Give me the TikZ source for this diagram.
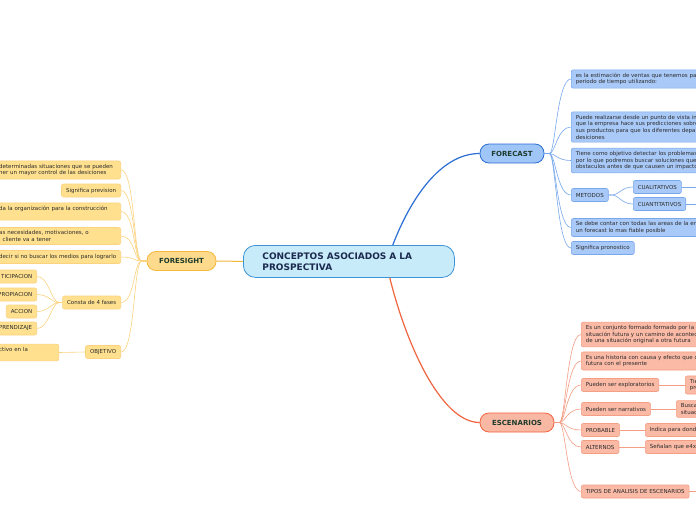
\documentclass[tikz,border=0pt]{standalone}
\usepackage{fontspec}
\setmainfont{DejaVu Sans}
\usepackage{tikz}

\definecolor{rootfill}{HTML}{C8EBFA}
\definecolor{rootline}{HTML}{3E93D6}
\definecolor{roottext}{HTML}{1B2A4E}
\definecolor{topictext}{HTML}{1D3A2C}
\definecolor{leaftext}{HTML}{2B2B2B}
\definecolor{fsfill}{HTML}{FDDA8C}
\definecolor{fsline}{HTML}{F4B83A}
\definecolor{fsleaffill}{HTML}{FFE08E}
\definecolor{fsleafline}{HTML}{FBD27E}
\definecolor{fcfill}{HTML}{A0C6F7}
\definecolor{fcline}{HTML}{2A6ED4}
\definecolor{fcleaffill}{HTML}{A9CAF8}
\definecolor{fcleafline}{HTML}{78A8EC}
\definecolor{esfill}{HTML}{F8B8A3}
\definecolor{esline}{HTML}{F0653E}
\definecolor{esleaffill}{HTML}{FABAA6}
\definecolor{esleafline}{HTML}{F49E84}

\begin{document}
\begin{tikzpicture}[x=1pt, y=-1pt,
        root/.style={draw=rootline, fill=rootfill, line width=0.8pt, rounded corners=12pt, text=roottext,
            font=\bfseries\fontsize{9}{11}\selectfont, align=left, anchor=north west,
            minimum height=32pt, inner xsep=19pt, inner ysep=0pt, text width=173pt},
        topic/.style={line width=0.8pt, rounded corners=9pt, text=topictext,
            font=\bfseries\fontsize{7}{8}\selectfont, minimum height=19pt, inner sep=0pt},
        leaf/.style={rounded corners=2pt, line width=0.6pt, text=leaftext, font=\fontsize{5.5}{6.7}\selectfont,
            align=left, inner xsep=4.5pt, inner ysep=3pt, minimum height=13pt},
        fsleaf/.style={leaf, draw=fsleafline, fill=fsleaffill, anchor=east},
        fcleaf/.style={leaf, draw=fcleafline, fill=fcleaffill, anchor=west},
        esleaf/.style={leaf, draw=esleafline, fill=esleaffill, anchor=west},
        cut/.style={text width=117pt},
        wide/.style={text width=160pt},
        fslink/.style={draw=fsleafline, line width=0.6pt},
        fclink/.style={draw=fcleafline, line width=0.6pt},
        eslink/.style={draw=esleafline, line width=0.6pt}
    ]
    \useasboundingbox (0,0) rectangle (696,520);
    \fill[white] (0,0) rectangle (696,520);
    \clip (0,0) rectangle (696,520);

    % main topics
    \node[root] (root) at (243,245) {CONCEPTOS ASOCIADOS A LA\\PROSPECTIVA};
    \node[topic, draw=fsline, fill=fsfill, minimum width=69pt] (foresight) at (181.5,261) {FORESIGHT};
    \node[topic, draw=fcline, fill=fcfill, minimum width=64pt] (forecast) at (512,153.5) {FORECAST};
    \node[topic, draw=esline, fill=esfill, minimum width=74pt] (escenarios) at (517,422.5) {ESCENARIOS};

    \draw[draw=fsline, line width=1pt] (root.west) -- (foresight.east);
    \draw[draw=fcline, line width=1.2pt] ([xshift=-62pt]root.north east) .. controls (410,200) and (440,153.5) .. (forecast.west);
    \draw[draw=esline, line width=1.2pt] ([xshift=-65pt]root.south east) .. controls (405,340) and (440,422.5) .. (escenarios.west);

    % foresight
    \node[fsleaf, cut] (fs1) at (121,170) {determinadas situaciones que se pueden\\ner un mayor control de las desiciones};
    \node[fsleaf] (fs2) at (121,190.5) {Significa prevision};
    \node[fsleaf, cut] (fs3) at (121,211.5) {da la organización para la construcción\\\mbox{}};
    \node[fsleaf, cut] (fs4) at (121,236) {as necesidades, motivaciones, o\\l cliente va a tener};
    \node[fsleaf] (fs5) at (121,257) {decir si no buscar los medios para lograrlo};
    \node[fsleaf] (fases) at (121,302.5) {Consta de 4 fases};
    \node[fsleaf] (objetivo) at (121,352) {OBJETIVO};
    \foreach \c in {fs1,fs2,fs3,fs4,fs5,fases,objetivo}
        \draw[fslink] (foresight.west) -- ++(-5,0) .. controls +(-8,0) and +(14,0) .. (\c.east);

    \node[fsleaf] (fase1) at (37,276.5) {TICIPACION};
    \node[fsleaf] (fase2) at (37,294.5) {PROPIACION};
    \node[fsleaf] (fase3) at (37,311.5) {ACCION};
    \node[fsleaf] (fase4) at (37,328.5) {PRENDIZAJE};
    \foreach \c in {fase1,fase2,fase3,fase4}
        \draw[fslink] (fases.west) -- ++(-3,0) .. controls +(-8,0) and +(12,0) .. (\c.east);

    \node[fsleaf, text width=55pt] (obj1) at (59,352.5) {ctivo en la\\\mbox{}};
    \draw[fslink] (objetivo.west) -- (obj1.east);

    % forecast
    \node[fcleaf, wide] (fc1) at (571,79) {es la estimación de ventas que tenemos pa\\periodo de tiempo utilizando:};
    \node[fcleaf, wide] (fc2) at (571,127) {Puede realizarse desde un punto de vista in\\que la empresa hace sus predicciones sobre\\sus productos para que los diferentes depar\\desiciones};
    \node[fcleaf, wide] (fc3) at (571,160.5) {Tiene como objetivo detectar los problemas\\por lo que podremos buscar soluciones que\\obstaculos antes de que causen un impacto};
    \node[fcleaf] (metodos) at (571,195) {METODOS};
    \node[fcleaf, wide] (fc5) at (571,227.5) {Se debe contar con todas las areas de la em\\un forecast lo mas fiable posible};
    \node[fcleaf] (fc6) at (571,248) {Significa pronostico};
    \foreach \c in {fc1,fc2,fc3,metodos,fc5,fc6}
        \draw[fclink] (forecast.east) -- ++(5,0) .. controls +(6,0) and +(-14,0) .. (\c.west);

    \node[fcleaf] (cuali) at (633,187) {CUALITATIVOS};
    \node[fcleaf] (cuanti) at (633,204) {CUANTITATIVOS};
    \foreach \c in {cuali,cuanti}
        \draw[fclink] (metodos.east) -- ++(3,0) .. controls +(8,0) and +(-12,0) .. (\c.west);
    \coordinate (cualiout) at (710,187);
    \coordinate (cuantiout) at (710,204);
    \draw[fclink] (cuali.east) -- (cualiout);
    \draw[fclink] (cuanti.east) -- (cuantiout);

    % escenarios
    \node[esleaf, wide] (es1) at (581,334.5) {Es un conjunto formado formado por la\\situación futura y un camino de acontec\\de una situación original a otra futura};
    \node[esleaf, wide] (es2) at (581,361) {Es una historia con causa y efecto que c\\futura con el presente};
    \node[esleaf] (explor) at (581,385) {Pueden ser exploratorios};
    \node[esleaf] (narra) at (581,409) {Pueden ser narrativos};
    \node[esleaf] (probable) at (581,430) {PROBABLE};
    \node[esleaf] (alternos) at (581,447) {ALTERNOS};
    \node[esleaf] (tipos) at (581,491.5) {TIPOS DE ANALISIS DE ESCENARIOS};
    \foreach \c in {es1,es2,explor,narra,probable,alternos,tipos}
        \draw[eslink] (escenarios.east) -- ++(5,0) .. controls +(6,0) and +(-14,0) .. (\c.west);

    \node[esleaf, text width=40pt] (explor1) at (685,385) {Tie\\pre};
    \node[esleaf, text width=40pt] (narra1) at (676,409) {Busca\\situac};
    \node[esleaf, text width=60pt] (probable1) at (645,430) {Indica para dond};
    \node[esleaf, text width=60pt] (alternos1) at (645,447) {Señalan que e4xi};
    \coordinate (tiposout) at (710,491.5);
    \draw[eslink] (explor.east) -- (explor1.west);
    \draw[eslink] (narra.east) -- (narra1.west);
    \draw[eslink] (probable.east) -- (probable1.west);
    \draw[eslink] (alternos.east) -- (alternos1.west);
    \draw[eslink] (tipos.east) -- (tiposout);
\end{tikzpicture}
\end{document}
